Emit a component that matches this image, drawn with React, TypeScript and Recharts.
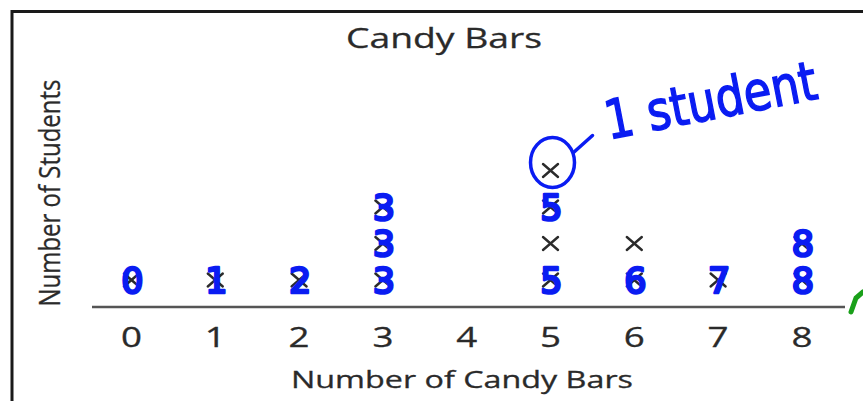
import React from 'react';
import { ScatterChart, Scatter, XAxis, YAxis } from 'recharts';

const title = 'Candy Bars';
const xLabel = 'Number of Candy Bars';
const yLabel = 'Number of Students';
const candyBars = [0, 1, 2, 3, 4, 5, 6, 7, 8];
const studentCounts = [1, 1, 1, 3, 0, 4, 2, 1, 2];
const xTicks = [0, 1, 2, 3, 4, 5, 6, 7, 8];

// handwritten teacher annotations
const noteX = [0, 1, 2, 3, 3, 3, 5, 5, 6, 7, 8, 8];
const noteLevel = [1, 1, 1, 1, 2, 3, 1, 3, 1, 1, 1, 2];
const noteText = ['0', '1', '2', '3', '3', '3', '5', '5', '6', '7', '8', '8'];
const circledX = [5];
const circledLevel = [4];
const circleNote = '1 student';

const BLUE = '#0a1cf2';
const FONT = '"Open Sans", "Noto Sans", sans-serif';

const points: { x: number; y: number }[] = [];
candyBars.forEach((c, i) => {
  for (let k = 1; k <= studentCounts[i]; k++) points.push({ x: c, y: k });
});
const notes = noteX.map((x, i) => ({ x, y: noteLevel[i], label: noteText[i] }));
const circled = circledX.map((x, i) => ({ x, y: circledLevel[i] }));

const XMark = (props: any) => {
  const { cx, cy } = props;
  const w = 7.5;
  const h = 6.5;
  return (
    <g stroke="#2b2b2b" strokeWidth={2.4} strokeLinecap="round">
      <line x1={cx - w} y1={cy - h} x2={cx + w} y2={cy + h} />
      <line x1={cx - w} y1={cy + h} x2={cx + w} y2={cy - h} />
    </g>
  );
};

const Digit = (props: any) => {
  const { cx, cy, payload } = props;
  return (
    <text
      x={cx + 1}
      y={cy + 13}
      textAnchor="middle"
      fontFamily="DejaVu Sans"
      fontSize={35}
      fill={BLUE}
      stroke={BLUE}
      strokeWidth={2.6}
      strokeLinejoin="round"
    >
      {payload.label}
    </text>
  );
};

const Circled = (props: any) => {
  const { cx, cy } = props;
  const tx = cx + 58;
  const ty = cy - 31;
  return (
    <g>
      <ellipse cx={cx + 2} cy={cy - 8} rx={22} ry={25} fill="none" stroke={BLUE} strokeWidth={3.5} />
      <line x1={cx + 23} y1={cy - 18} x2={cx + 42} y2={cy - 35} stroke={BLUE} strokeWidth={3.5} strokeLinecap="round" />
      <text
        x={tx}
        y={ty}
        fontFamily="DejaVu Sans"
        fontSize={54}
        fill={BLUE}
        stroke={BLUE}
        strokeWidth={1.5}
        textLength={215}
        lengthAdjust="spacingAndGlyphs"
        transform={`rotate(-11 ${tx} ${ty})`}
      >
        {circleNote}
      </text>
    </g>
  );
};

const Tick = (props: any) => {
  const { x, y, payload } = props;
  return (
    <text
      x={x}
      y={y + 40}
      textAnchor="middle"
      fontFamily={FONT}
      fontSize={28}
      fill="#2a2a2a"
      stroke="#2a2a2a"
      strokeWidth={0.3}
      textLength={21}
      lengthAdjust="spacingAndGlyphs"
    >
      {payload.value}
    </text>
  );
};

export default function App() {
  return (
    <div style={{ position: 'absolute', left: 0, top: 0, width: 863, height: 401, background: '#fff' }}>
      <ScatterChart width={863} height={401} margin={{ top: 61, right: 18, bottom: 34, left: 92 }}>
        <XAxis
          dataKey="x"
          type="number"
          domain={[-0.471, 8.514]}
          ticks={xTicks}
          interval={0}
          tick={<Tick />}
          tickLine={false}
          tickSize={0}
          tickMargin={0}
          height={60}
          axisLine={{ stroke: '#555', strokeWidth: 2.5 }}
          allowDataOverflow
        />
        <YAxis dataKey="y" type="number" domain={[0.26, 7]} hide allowDataOverflow />
        <Scatter data={points} shape={<XMark />} isAnimationActive={false} />
        <Scatter data={notes} shape={<Digit />} isAnimationActive={false} />
        <Scatter data={circled} shape={<Circled />} isAnimationActive={false} />
      </ScatterChart>
      <svg
        width={863}
        height={401}
        style={{ position: 'absolute', left: 0, top: 0, pointerEvents: 'none' }}
      >
        <path d="M12 401 V11.5 H863" fill="none" stroke="#1a1a1a" strokeWidth={3} />
        <text
          x={444}
          y={48}
          textAnchor="middle"
          fontFamily={FONT}
          fontSize={27}
          fill="#2a2a2a"
          stroke="#2a2a2a"
          strokeWidth={0.3}
          textLength={196}
          lengthAdjust="spacingAndGlyphs"
        >
          {title}
        </text>
        <text
          x={462}
          y={388}
          textAnchor="middle"
          fontFamily={FONT}
          fontSize={24}
          fill="#2a2a2a"
          stroke="#2a2a2a"
          strokeWidth={0.3}
          textLength={342}
          lengthAdjust="spacingAndGlyphs"
        >
          {xLabel}
        </text>
        <text
          x={60}
          y={193}
          textAnchor="middle"
          fontFamily={FONT}
          fontSize={30}
          fill="#2a2a2a"
          stroke="#2a2a2a"
          strokeWidth={0.3}
          textLength={227}
          lengthAdjust="spacingAndGlyphs"
          transform="rotate(-90 60 193)"
        >
          {yLabel}
        </text>
        <path d="M851 312 L856 298 L863 292" fill="none" stroke="#1aa01a" strokeWidth={5} strokeLinecap="round" />
      </svg>
    </div>
  );
}
